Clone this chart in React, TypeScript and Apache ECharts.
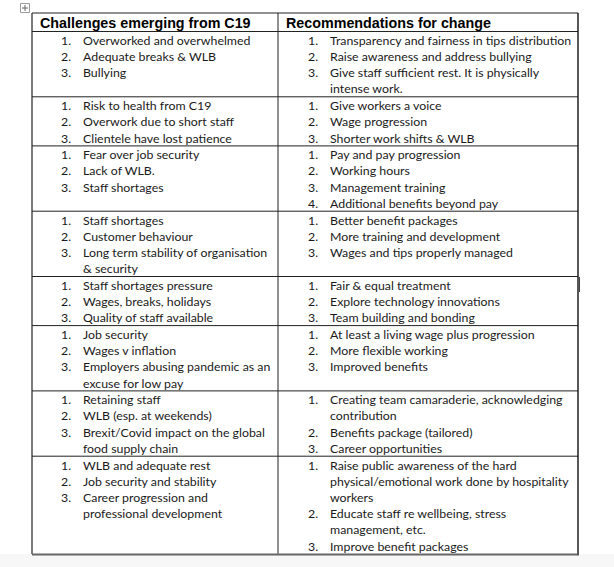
import React, { useEffect, useRef } from "react";
import * as echarts from "echarts";

const headers: string[] = ["Challenges emerging from C19", "Recommendations for change"];

const challenges: string[][] = [
  ["Overworked and overwhelmed", "Adequate breaks & WLB", "Bullying"],
  ["Risk to health from C19", "Overwork due to short staff", "Clientele have lost patience"],
  ["Fear over job security", "Lack of WLB.", "Staff shortages"],
  ["Staff shortages", "Customer behaviour", "Long term stability of organisation\n& security"],
  ["Staff shortages pressure", "Wages, breaks, holidays", "Quality of staff available"],
  ["Job security", "Wages v inflation", "Employers abusing pandemic as an\nexcuse for low pay"],
  ["Retaining staff", "WLB (esp. at weekends)", "Brexit/Covid impact on the global\nfood supply chain"],
  ["WLB and adequate rest", "Job security and stability", "Career progression and\nprofessional development"],
];

const recommendations: string[][] = [
  ["Transparency and fairness in tips distribution", "Raise awareness and address bullying", "Give staff sufficient rest. It is physically\nintense work."],
  ["Give workers a voice", "Wage progression", "Shorter work shifts & WLB"],
  ["Pay and pay progression", "Working hours", "Management training", "Additional benefits beyond pay"],
  ["Better benefit packages", "More training and development", "Wages and tips properly managed"],
  ["Fair & equal treatment", "Explore technology innovations", "Team building and bonding"],
  ["At least a living wage plus progression", "More flexible working", "Improved benefits"],
  ["Creating team camaraderie, acknowledging\ncontribution", "Benefits package (tailored)", "Career opportunities"],
  ["Raise public awareness of the hard\nphysical/emotional work done by hospitality\nworkers", "Educate staff re wellbeing, stress\nmanagement, etc.", "Improve benefit packages"],
];

// layout
const TL = 32, TR = 578, MID = 278, TOP = 13, HEAD_B = 31.5;
const LH = 16.2, PAD = 0.5, FIRST = 8.8;
const BODY_FONT = "Lato";
const BODY_SIZE = 12.35;
const NUM_X = [61, 308];
const TXT_X = [83, 330];
const HEAD_X = [40, 286];

function countLines(items: string[]): number {
  return items.reduce((s, it) => s + it.split("\n").length, 0);
}

function txt(text: string, x: number, y: number, size: number, family: string, weight: string | number = "normal", fill = "#1a1a1a") {
  return {
    type: "text",
    silent: true,
    style: {
      text, x, y,
      fontSize: size, fontFamily: family, fontWeight: weight,
      fill,
      align: "left", verticalAlign: "middle",
      textAlign: "left", textVerticalAlign: "middle",
    },
  };
}

function ln(x1: number, y1: number, x2: number, y2: number, stroke = "#111", w = 1) {
  return { type: "line", silent: true, shape: { x1, y1, x2, y2 }, style: { stroke, lineWidth: w } };
}

export default function App() {
  const ref = useRef<HTMLDivElement>(null);
  useEffect(() => {
    if (!ref.current) return;
    const chart = echarts.init(ref.current, undefined, { renderer: "svg" });
    const els: any[] = [];
    els.push({ type: "rect", silent: true, shape: { x: 0, y: 554, width: 614, height: 13 }, style: { fill: "#f7f7f7" } });
    // header
    headers.forEach((h, c) => els.push(txt(h, HEAD_X[c], 22.5, 14.3, "Liberation Sans", "bold", "#000")));
    let y = HEAD_B;
    const seps: number[] = [];
    challenges.forEach((left, r) => {
      const right = recommendations[r];
      const cols = [left, right];
      const maxL = Math.max(countLines(left), countLines(right));
      cols.forEach((items, c) => {
        let li = 0;
        items.forEach((it, k) => {
          const parts = it.split("\n");
          els.push(txt(`${k + 1}.`, NUM_X[c], y + FIRST + li * LH, BODY_SIZE, BODY_FONT));
          parts.forEach((p) => {
            els.push(txt(p, TXT_X[c], y + FIRST + li * LH, BODY_SIZE, BODY_FONT));
            li++;
          });
        });
      });
      y += maxL * LH + PAD;
      seps.push(y);
    });
    const bottom = y;
    // grid lines
    els.push(ln(TL, TOP, TR, TOP, "#222", 1));
    els.push(ln(TL, HEAD_B, TR, HEAD_B, "#222", 1));
    seps.slice(0, -1).forEach((s) => els.push(ln(TL, s, TR, s, "#222", 1)));
    els.push(ln(TL, TOP, TL, bottom, "#222", 1.2));
    els.push(ln(MID, TOP, MID, bottom, "#222", 1));
    els.push(ln(TR, TOP, TR, bottom + 1.5, "#111", 1.4));
    els.push(ln(TL, bottom + 0.5, TR - 0.5, bottom + 0.5, "#666", 2));
    // table move handle
    els.push({ type: "rect", silent: true, shape: { x: 20.5, y: 3.5, width: 9, height: 9 }, style: { fill: "#fff", stroke: "#999", lineWidth: 1 } });
    els.push(ln(25, 5, 25, 11, "#666", 1));
    els.push(ln(22, 8, 28, 8, "#666", 1));
    // cursor mark
    els.push(ln(579.5, 277, 579.5, 292, "#444", 1));
    chart.setOption({ animation: false, backgroundColor: "#ffffff", graphic: { elements: els } });
    return () => chart.dispose();
  }, []);
  return <div ref={ref} style={{ position: "fixed", left: 0, top: 0, width: 614, height: 567 }} />;
}
